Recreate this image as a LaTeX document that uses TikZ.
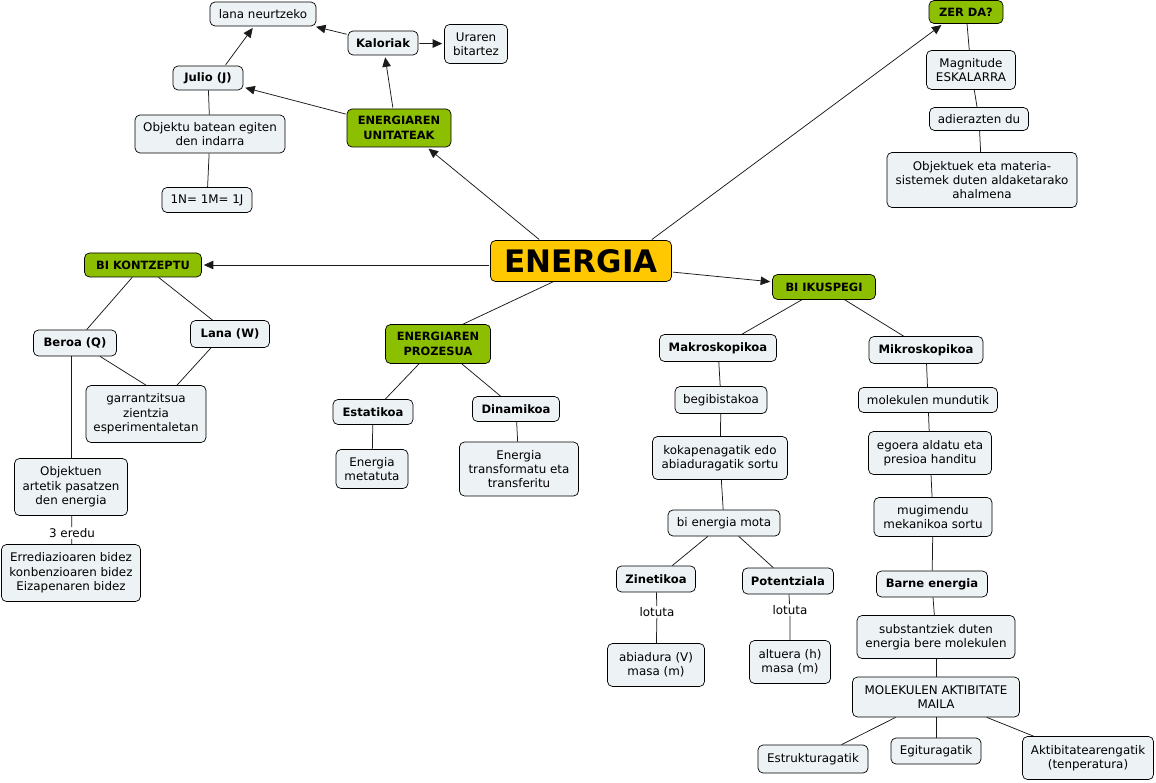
\documentclass[tikz,border=0pt]{standalone}
\usepackage{fontspec}
\setmainfont{DejaVu Sans}
\usetikzlibrary{arrows.meta}
\definecolor{boxfill}{HTML}{EDF2F5}
\definecolor{greenfill}{HTML}{8CBF00}
\definecolor{yellowfill}{HTML}{FFC800}
\definecolor{linecol}{HTML}{1A1A1A}
\tikzset{
  base/.style={draw=black, line width=0.7pt, rounded corners=5pt, align=center, inner sep=1pt,
    font=\fontsize{11.9}{14.3}\selectfont},
  cbox/.style={base, fill=boxfill},
  bbox/.style={base, fill=boxfill, font=\fontsize{11.6}{14.3}\selectfont\bfseries},
  gbox/.style={base, fill=greenfill, font=\fontsize{11.4}{14.3}\selectfont\bfseries},
  ybox/.style={base, fill=yellowfill, font=\fontsize{31}{34}\selectfont\bfseries},
  lbl/.style={fill=white, inner sep=1pt, font=\fontsize{11.9}{13}\selectfont},
  conn/.style={draw=linecol, line width=0.75pt},
  arr/.style={conn, -{Triangle[length=9.5pt,width=8.5pt]}, shorten >=2pt, shorten <=1pt},
  sz/.style 2 args={minimum width=#1pt, minimum height=#2pt}
}
\begin{document}
\begin{tikzpicture}[x=1pt,y=-1pt]
\useasboundingbox[fill=white] (0,0) rectangle (1156,783);
% top left
\node[cbox, sz={106}{24}] (lana) at (263,14) {lana neurtzeko};
\node[bbox, sz={70}{24}] (kal) at (383,43) {Kaloriak};
\node[cbox, sz={63}{39}] (ura) at (476,44) {Uraren\\bitartez};
\node[bbox, sz={70}{24}] (julio) at (208,78) {Julio (J)};
\node[gbox, sz={104}{38}] (unit) at (399,128) {ENERGIAREN\\UNITATEAK};
\node[cbox, sz={150}{38}] (obat) at (210,134) {Objektu batean egiten\\den indarra};
\node[cbox, sz={90}{25}] (nmj) at (207,200) {1N= 1M= 1J};
% top right
\node[gbox, sz={74}{23}] (zer) at (966,12) {ZER DA?};
\node[cbox, sz={89}{39}] (magn) at (971,70) {Magnitude\\ESKALARRA};
\node[cbox, sz={99}{23}] (adi) at (979,119) {adierazten du};
\node[cbox, sz={190}{55}] (objk) at (982,180) {Objektuek eta materia-\\sistemek duten aldaketarako\\ahalmena};
% center
\node[ybox, sz={181}{41}] (en) at (581,261) {ENERGIA};
\node[gbox, sz={117}{24}] (bik) at (143,265) {BI KONTZEPTU};
\node[gbox, sz={103}{25}] (bii) at (824,287) {BI IKUSPEGI};
\node[gbox, sz={105}{39}] (proz) at (438,344) {ENERGIAREN\\PROZESUA};
% left
\node[bbox, sz={83}{26}] (beroa) at (75,343) {Beroa (Q)};
\node[bbox, sz={79}{27}] (lanaw) at (230,334) {Lana (W)};
\node[cbox, sz={120}{57}] (garr) at (146,414) {garrantzitsua\\zientzia\\esperimentaletan};
\node[cbox, sz={113}{57}] (objn) at (71,487) {Objektuen\\artetik pasatzen\\den energia};
\node[lbl] (ered) at (72,533) {3 eredu};
\node[cbox, sz={139}{57}] (erra) at (71,573) {Errediazioaren bidez\\konbenzioaren bidez\\Eizapenaren bidez};
% middle
\node[bbox, sz={80}{25}] (esta) at (373,412) {Estatikoa};
\node[bbox, sz={87}{25}] (dina) at (516,409) {Dinamikoa};
\node[cbox, sz={72}{39}] (meta) at (372,469) {Energia\\metatuta};
\node[cbox, sz={119}{54}] (trans) at (519,469) {Energia\\transformatu eta\\transferitu};
% makro
\node[bbox, sz={117}{27}] (makro) at (718,348) {Makroskopikoa};
\node[cbox, sz={92}{27}] (begi) at (721,400) {begibistakoa};
\node[cbox, sz={135}{43}] (koka) at (720,458) {kokapenagatik edo\\abiaduragatik sortu};
\node[cbox, sz={112}{26}] (bien) at (724,523) {bi energia mota};
\node[bbox, sz={79}{26}] (zin) at (656,579) {Zinetikoa};
\node[bbox, sz={91}{26}] (pot) at (788,581) {Potentziala};
\node[lbl] (lot1) at (657,612) {lotuta};
\node[lbl] (lot2) at (790,610) {lotuta};
\node[cbox, sz={97}{43}] (abia) at (656,665) {abiadura (V)\\masa (m)};
\node[cbox, sz={81}{43}] (altu) at (790,662) {altuera (h)\\masa (m)};
% mikro
\node[bbox, sz={114}{27}] (mikro) at (926,350) {Mikroskopikoa};
\node[cbox, sz={139}{25}] (molm) at (928,400) {molekulen mundutik};
\node[cbox, sz={123}{43}] (ego) at (930,453) {egoera aldatu eta\\presioa handitu};
\node[cbox, sz={118}{39}] (mugi) at (933,517) {mugimendu\\mekanikoa sortu};
\node[bbox, sz={111}{26}] (barne) at (932,584) {Barne energia};
\node[cbox, sz={158}{43}] (subs) at (936,637) {substantziek duten\\energia bere molekulen};
\node[cbox, sz={167}{40}] (mola) at (936,697) {MOLEKULEN AKTIBITATE\\MAILA};
\node[cbox, sz={110}{28}] (estr) at (813,759) {Estrukturagatik};
\node[cbox, sz={90}{26}] (egit) at (936,751) {Egituragatik};
\node[cbox, sz={131}{43}] (akti) at (1088,758) {Aktibitatearengatik\\(tenperatura)};
% connectors
\draw[arr] ([xshift=-41pt]en.north) -- ([xshift=28pt]unit.south);
\draw[arr] ([xshift=70pt]en.north) -- ([xshift=-23pt]zer.south);
\draw[arr] (en.west |- bik) -- (bik);
\draw[arr] ([yshift=-11pt]en.east) -- (bii);
\draw[conn] ([xshift=-28pt]en.south) -- ([xshift=25pt]proz.north);
\draw[arr] (unit) -- (julio);
\draw[arr] ([xshift=-6pt]unit.north) -- (kal);
\draw[arr] (kal) -- (lana);
\draw[arr] (kal) -- (ura);
\draw[arr] ([xshift=17pt]julio.north) -- (lana);
\draw[conn] (julio) -- (obat);
\draw[conn] (obat) -- (nmj);
\draw[conn] (zer) -- (magn);
\draw[conn] (magn) -- (adi);
\draw[conn] (adi) -- (objk);
\draw[conn] (bik) -- (beroa);
\draw[conn] (bik) -- (lanaw);
\draw[conn] ([xshift=25pt]beroa.south) -- (garr.north);
\draw[conn] ([xshift=-19pt]lanaw.south) -- ([xshift=31pt]garr.north);
\draw[conn] ([xshift=-4pt]beroa.south) -- (objn.north);
\draw[conn] (objn) -- (ered) -- (erra);
\draw[conn] (proz) -- (esta);
\draw[conn] (proz) -- (dina);
\draw[conn] (esta) -- (meta);
\draw[conn] (dina) -- (trans);
\draw[conn] (bii) -- (makro);
\draw[conn] (bii) -- (mikro);
\draw[conn] (makro) -- (begi);
\draw[conn] (begi) -- (koka);
\draw[conn] (koka) -- (bien);
\draw[conn] (bien) -- (zin);
\draw[conn] (bien) -- (pot);
\draw[conn] (zin) -- (lot1) -- (abia);
\draw[conn] (pot) -- (lot2) -- (altu);
\draw[conn] (mikro) -- (molm);
\draw[conn] (molm) -- (ego);
\draw[conn] (ego) -- (mugi);
\draw[conn] (mugi) -- (barne);
\draw[conn] (barne) -- (subs);
\draw[conn] (subs) -- (mola);
\draw[conn] (mola) -- (estr);
\draw[conn] (mola) -- (egit);
\draw[conn] (mola) -- (akti);
\end{tikzpicture}
\end{document}
